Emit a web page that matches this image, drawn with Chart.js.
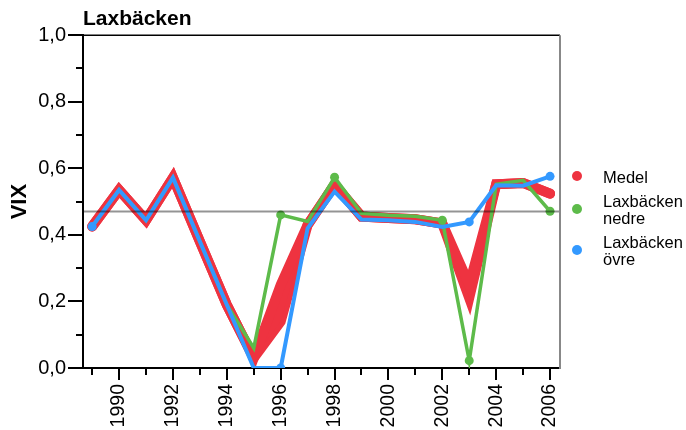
<!DOCTYPE html>
<html>
<head>
<meta charset="utf-8">
<script src="https://cdn.jsdelivr.net/npm/chart.js@4.4.0/dist/chart.umd.min.js"></script>
<style>
  html, body { margin: 0; padding: 0; background: #fff; }
  #wrap { position: relative; width: 686px; height: 430px; }
  #legend { position: absolute; left: 572px; top: 169px; font-family: "Liberation Sans", Arial, sans-serif; font-size: 16.5px; line-height: 16.7px; color: #000; }
  .item { display: flex; align-items: center; margin-bottom: 7.5px; }
  .dot { width: 10px; height: 10px; border-radius: 50%; margin-right: 21px; margin-top: -2px; flex: none; }
</style>
</head>
<body>
<div id="wrap">
  <canvas id="chart" width="686" height="430"></canvas>
  <div id="legend"></div>
</div>
<script>
const years = [1989, 1990, 1991, 1992, 1993, 1994, 1995, 1996, 1997, 1998, 1999, 2000, 2001, 2002, 2003, 2004, 2005, 2006];

// Medel is drawn as a band, upper and lower edge
const medelUpper = [0.425, 0.535, 0.444, 0.572, 0.38, 0.19, 0.03, 0.25, 0.43, 0.551, 0.455, 0.451, 0.447, 0.434, 0.25, 0.552, 0.556, 0.524];
const medelLower = [0.425, 0.535, 0.444, 0.572, 0.38, 0.19, 0.03, 0.14, 0.43, 0.551, 0.455, 0.451, 0.447, 0.434, 0.21, 0.552, 0.556, 0.524];
const nedre = [0.425, 0.535, 0.444, 0.572, 0.38, 0.19, 0.06, 0.46, 0.44, 0.573, 0.465, 0.459, 0.456, 0.444, 0.022, 0.552, 0.564, 0.471];
const ovre = [0.425, 0.535, 0.444, 0.572, 0.38, 0.19, 0.0, 0.0, 0.42, 0.53, 0.446, 0.444, 0.439, 0.424, 0.439, 0.549, 0.548, 0.576];
const referens = 0.47;

const xMin = 1988.66, xMax = 2006.37;

const red = '#ee3340', green = '#5dbb4a', blue = '#3399ff';
const font = '"Liberation Sans", Arial, sans-serif';

const pts = arr => years.map((yr, i) => ({ x: yr, y: arr[i] }));
const markAt = list => ctx => list.includes(years[ctx.dataIndex]) ? 4.5 : 0;

const axisMarks = {
    id: 'axisMarks',
    afterDraw(chart) {
        const { ctx, chartArea: a, scales: { x, y } } = chart;
        ctx.save();
        ctx.strokeStyle = '#000';
        ctx.lineWidth = 2;
        y.ticks.forEach(t => {
            const py = Math.round(y.getPixelForValue(t.value));
            const len = t.label ? 15 : 7;
            ctx.beginPath(); ctx.moveTo(a.left - len, py); ctx.lineTo(a.left, py); ctx.stroke();
        });
        x.ticks.forEach(t => {
            const px = Math.round(x.getPixelForValue(t.value));
            const len = t.label ? 12 : 7;
            ctx.beginPath(); ctx.moveTo(px, a.bottom); ctx.lineTo(px, a.bottom + len); ctx.stroke();
        });
        ctx.lineWidth = 1.5;
        ctx.beginPath(); ctx.moveTo(a.left, a.top); ctx.lineTo(a.right, a.top); ctx.stroke();
        ctx.strokeStyle = '#888';
        ctx.lineWidth = 2;
        ctx.beginPath(); ctx.moveTo(a.right, a.top); ctx.lineTo(a.right, a.bottom + 1); ctx.stroke();
        ctx.restore();
    }
};

const chart = new Chart(document.getElementById('chart'), {
    type: 'line',
    data: {
        datasets: [
            {
                label: 'Medel', data: pts(medelUpper), order: 4, color: red,
                borderColor: red, backgroundColor: red, borderWidth: 10, fill: '+1',
                pointRadius: 0, borderJoinStyle: 'miter', borderCapStyle: 'round'
            },
            {
                label: '', data: pts(medelLower), order: 5,
                borderColor: red, backgroundColor: red, borderWidth: 10, fill: false,
                pointRadius: 0, borderJoinStyle: 'miter', borderCapStyle: 'round'
            },
            {
                label: 'Laxbäcken nedre', data: pts(nedre), order: 2, color: green,
                borderColor: green, backgroundColor: green, borderWidth: 3.5,
                pointRadius: markAt([1996, 1998, 2002, 2003, 2006]), pointBorderWidth: 0,
                pointBackgroundColor: green, borderJoinStyle: 'miter'
            },
            {
                label: 'Laxbäcken övre', data: pts(ovre), order: 1, color: blue,
                borderColor: blue, backgroundColor: blue, borderWidth: 4,
                pointRadius: markAt([1989, 1996, 2003, 2006]), pointBorderWidth: 0,
                pointBackgroundColor: blue, borderJoinStyle: 'miter'
            },
            {
                label: '', data: [{ x: xMin, y: referens }, { x: xMax, y: referens }], order: 0,
                borderColor: 'rgba(0,0,0,0.42)', borderWidth: 2, pointRadius: 0
            }
        ]
    },
    options: {
        responsive: false,
        animation: false,
        devicePixelRatio: 1,
        layout: { padding: { left: 0, right: 126, top: 0, bottom: 0 } },
        plugins: {
            legend: { display: false },
            tooltip: { enabled: false },
            title: {
                display: true, text: 'Laxbäcken', align: 'start', fullSize: false, color: '#000',
                font: { family: font, size: 21, weight: 'bold' }, padding: { top: 7, bottom: 3 }
            }
        },
        scales: {
            x: {
                type: 'linear', min: xMin, max: xMax,
                afterBuildTicks: s => { s.ticks = years.map(v => ({ value: v })); },
                afterFit: s => { s.height = 62; },
                grid: { drawOnChartArea: false, drawTicks: false },
                border: { color: '#000', width: 2 },
                ticks: {
                    callback: v => v % 2 === 0 ? String(v) : '',
                    autoSkip: false, minRotation: 90, maxRotation: 90, padding: 16,
                    color: '#000', font: { family: font, size: 19.5 }
                }
            },
            y: {
                min: 0, max: 1,
                afterFit: s => { s.width = 83; },
                grid: { drawOnChartArea: false, drawTicks: false },
                border: { color: '#000', width: 2 },
                ticks: {
                    stepSize: 0.1, autoSkip: false, padding: 17, color: '#000',
                    font: { family: font, size: 20 },
                    callback: v => Math.round(v * 10) % 2 === 0 ? v.toFixed(1).replace('.', ',') : ''
                },
                title: {
                    display: true, text: 'VIX', color: '#000',
                    font: { family: font, size: 22, weight: 'bold' }, padding: { top: 7, bottom: 0 }
                }
            }
        }
    },
    plugins: [axisMarks]
});

const legend = document.getElementById('legend');
chart.data.datasets.filter(d => d.label).forEach(d => {
    const item = document.createElement('div');
    item.className = 'item';
    const dot = document.createElement('span');
    dot.className = 'dot';
    dot.style.background = d.color;
    const txt = document.createElement('span');
    txt.innerHTML = d.label.split(' ').join('<br>');
    item.appendChild(dot);
    item.appendChild(txt);
    legend.appendChild(item);
});
</script>
</body>
</html>
